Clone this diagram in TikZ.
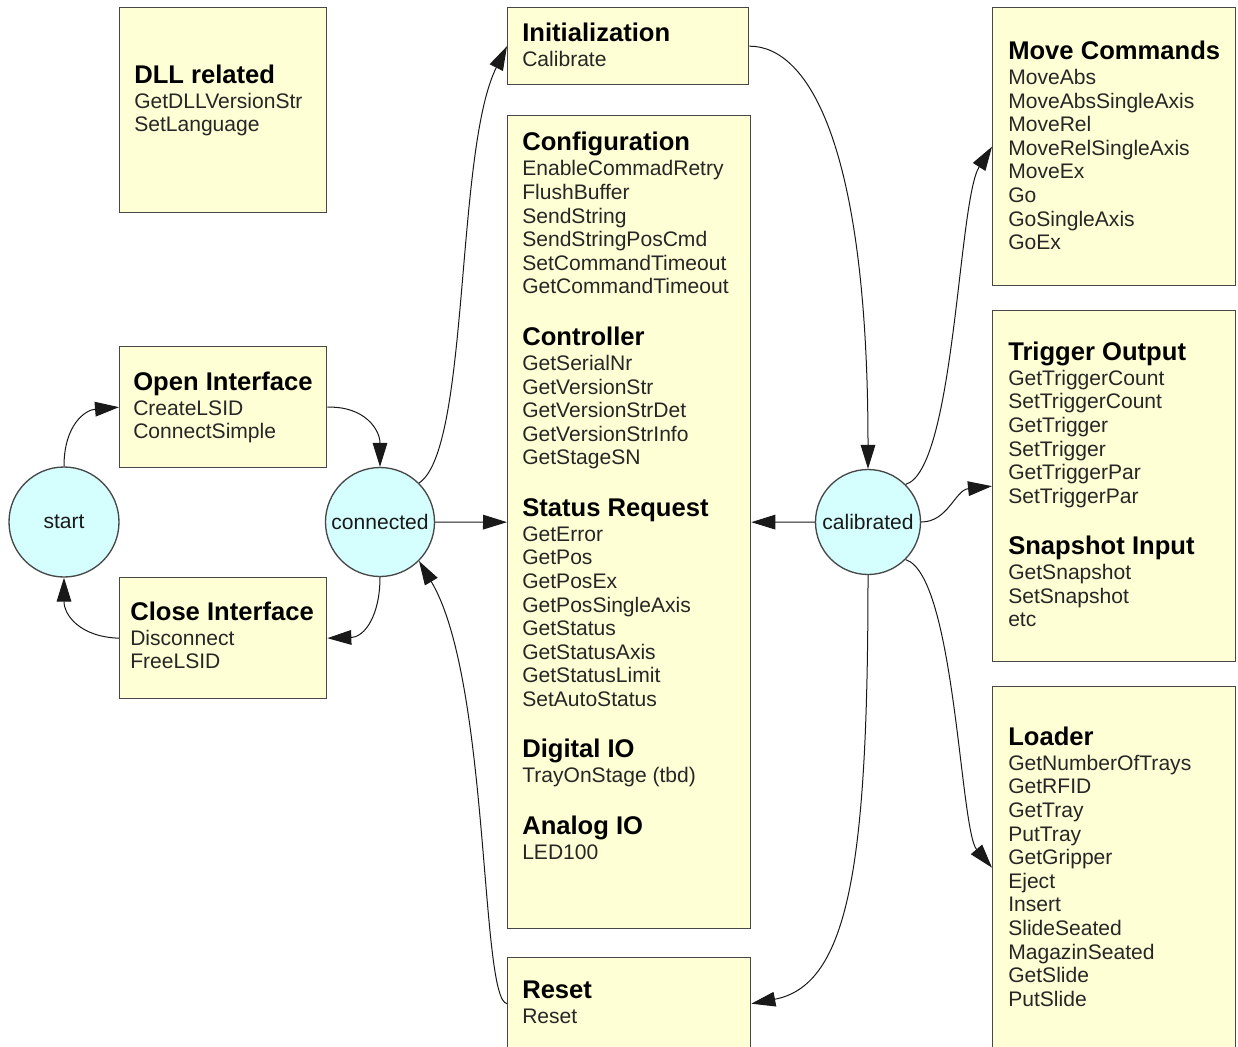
\documentclass[tikz,border=0pt]{standalone}
\usepackage{fontspec}
\setmainfont{Liberation Sans}
\usetikzlibrary{arrows.meta}
\definecolor{boxyellow}{HTML}{FFFFD5}
\definecolor{statecyan}{HTML}{D5FFFF}
\newcommand\bodyfont{\fontsize{15.8}{17.7}\selectfont\lineskiplimit=-50pt\relax}
\newcommand\hd[1]{{\fontsize{19.2}{17.7}\selectfont\bfseries\color{black}\rule{0pt}{14pt}#1}}
\tikzset{
  box/.style={rectangle, draw=black!72, line width=1pt, fill=boxyellow, anchor=north west, inner sep=0pt},
  state/.style={circle, draw=black!72, line width=1pt, fill=statecyan, inner sep=0pt, font=\bodyfont, text=black!90},
  lbl/.style={anchor=north west, inner sep=0pt, align=left, font=\bodyfont, text=black!85},
  arr/.style={draw=black!90, line width=0.75pt, -{Triangle[length=18pt,width=11pt]}},
}
\begin{document}
\begin{tikzpicture}[x=0.75pt,y=-0.75pt]
\useasboundingbox (0,0) rectangle (1238,1046);
\fill[white] (0,0) rectangle (1238,1046);
\clip (0,0) rectangle (1238,1046);

% boxes
\node[box, minimum width={207*0.75pt}, minimum height={205*0.75pt}] (dll) at (119,7) {};
\node[box, minimum width={241*0.75pt}, minimum height={77*0.75pt}] (init) at (507,7) {};
\node[box, minimum width={243*0.75pt}, minimum height={813*0.75pt}] (config) at (507,115) {};
\node[box, minimum width={243*0.75pt}, minimum height={92*0.75pt}] (reset) at (507,957) {};
\node[box, minimum width={243*0.75pt}, minimum height={278*0.75pt}] (move) at (992,7) {};
\node[box, minimum width={243*0.75pt}, minimum height={351*0.75pt}] (trig) at (992,310) {};
\node[box, minimum width={243*0.75pt}, minimum height={362*0.75pt}] (loader) at (992,686) {};
\node[box, minimum width={207*0.75pt}, minimum height={121*0.75pt}] (open) at (119,346) {};
\node[box, minimum width={207*0.75pt}, minimum height={121*0.75pt}] (close) at (119,577) {};

% states
\node[state, minimum size={110*0.75pt}] (start) at (64,522) {start};
\node[state, minimum size={109*0.75pt}] (connected) at (380,522) {connected};
\node[state, minimum size={105*0.75pt}] (calibrated) at (868,522) {calibrated};

% box texts (top = title baseline - 18.67px)
\node[lbl] (dllT) at (134,64.3) {\hd{DLL related}\\[1.05pt]
GetDLLVersionStr\\ SetLanguage};
\node[lbl] (initT) at (522,22.3) {\hd{Initialization}\\[1.05pt]
Calibrate};
\node[lbl] (configT) at (522,132) {\hd{Configuration}\\[1.05pt]
EnableCommadRetry\\ FlushBuffer\\ SendString\\ SendStringPosCmd\\ SetCommandTimeout\\ GetCommandTimeout\\[20.9pt]
\hd{Controller}\\[1.05pt]
GetSerialNr\\ GetVersionStr\\ GetVersionStrDet\\ GetVersionStrInfo\\ GetStageSN\\[20.9pt]
\hd{Status Request}\\[1.05pt]
GetError\\ GetPos\\ GetPosEx\\ GetPosSingleAxis\\ GetStatus\\ GetStatusAxis\\ GetStatusLimit\\ SetAutoStatus\\[20.9pt]
\hd{Digital IO}\\[1.05pt]
TrayOnStage (tbd)\\[20.9pt]
\hd{Analog IO}\\[1.05pt]
LED100};
\node[lbl] (resetT) at (522,979.3) {\hd{Reset}\\[1.05pt]
Reset};
\node[lbl] (moveT) at (1008,40.6) {\hd{Move Commands}\\[1.05pt]
MoveAbs\\ MoveAbsSingleAxis\\ MoveRel\\ MoveRelSingleAxis\\ MoveEx\\ Go\\ GoSingleAxis\\ GoEx};
\node[lbl] (trigT) at (1008,341.3) {\hd{Trigger Output}\\[1.05pt]
GetTriggerCount\\ SetTriggerCount\\ GetTrigger\\ SetTrigger\\ GetTriggerPar\\ SetTriggerPar\\[20.9pt]
\hd{Snapshot Input}\\[1.05pt]
GetSnapshot\\ SetSnapshot\\ etc};
\node[lbl] (loaderT) at (1008,726.3) {\hd{Loader}\\[1.05pt]
GetNumberOfTrays\\ GetRFID\\ GetTray\\ PutTray\\ GetGripper\\ Eject\\ Insert\\ SlideSeated\\ MagazinSeated\\ GetSlide\\ PutSlide};
\node[lbl] (openT) at (133,371.3) {\hd{Open Interface}\\[1.05pt]
CreateLSID\\ ConnectSimple};
\node[lbl] (closeT) at (130,601.3) {\hd{Close Interface}\\[1.05pt]
Disconnect\\ FreeLSID};

% connectors
\draw[arr] (start.north) .. controls (64,425) and (85,410) .. (open.west);
\draw[arr] (open.east) .. controls (365,406) and (380,430) .. (connected.north);
\draw[arr] (connected.south) .. controls (380,615) and (365,637) .. (close.east);
\draw[arr] (close.west) .. controls (80,637) and (64,615) .. (start.south);
\draw[arr] (connected.45) .. controls (470,450) and (455,150) .. (init.west);
\draw[arr] (connected.east) -- (config.west);
\draw[arr] (reset.west) .. controls (480,1000) and (490,680) .. (connected.-45);
\draw[arr] (init.east) .. controls (810,46) and (868,150) .. (calibrated.north);
\draw[arr] (calibrated.west) -- (config.east);
\draw[arr] (calibrated.45) .. controls (955,470) and (958,200) .. (move.west);
\draw[arr] (calibrated.east) .. controls (948,522) and (955,490) .. (trig.west);
\draw[arr] (calibrated.-45) .. controls (955,575) and (960,830) .. (loader.west);
\draw[arr] (calibrated.south) .. controls (868,860) and (850,985) .. (reset.east);
\end{tikzpicture}
\end{document}
